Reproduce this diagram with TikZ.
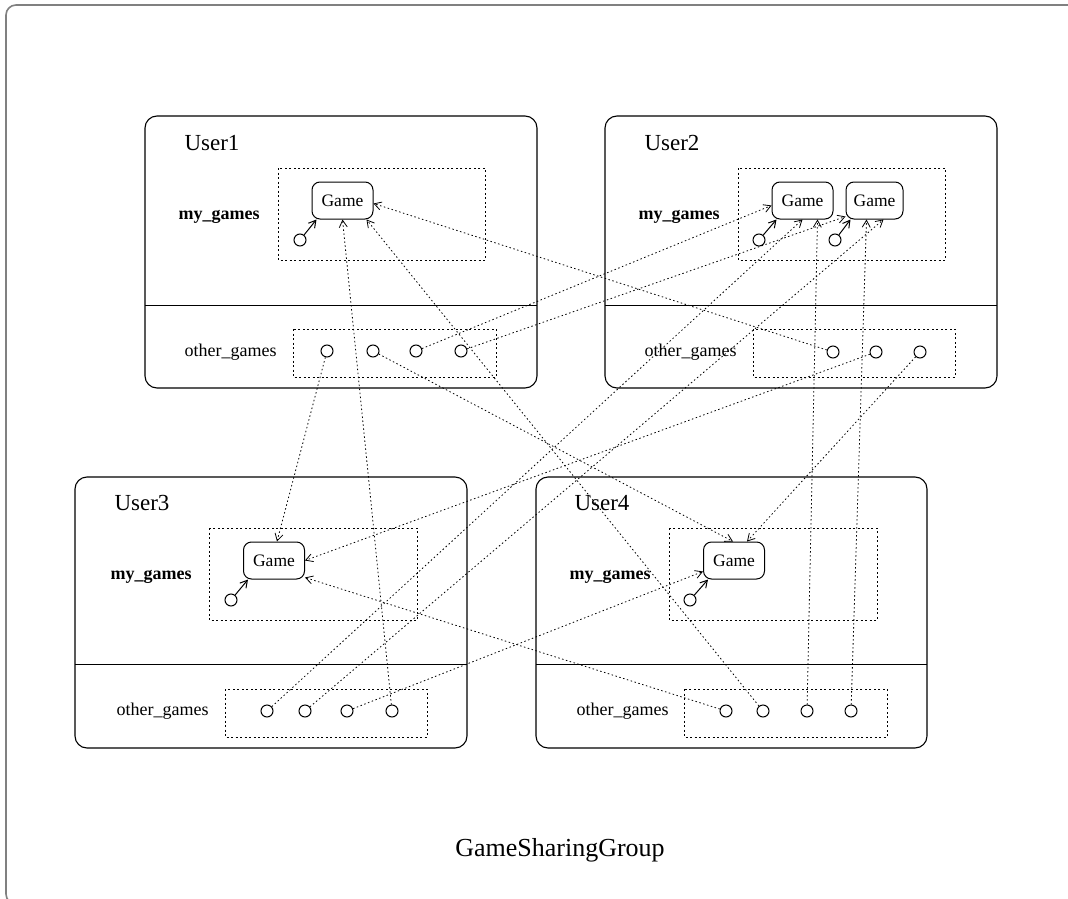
\documentclass[tikz,border=0pt]{standalone}
\usepackage{fontspec}
\setmainfont{Liberation Serif}
\usetikzlibrary{arrows.meta}
\begin{document}
\begin{tikzpicture}[x=1pt,y=-1pt,
  userbox/.style={draw, line width=1.1pt, rounded corners=12pt},
  divider/.style={line width=0.8pt},
  groupbox/.style={draw, line width=0.9pt, dash pattern=on 2pt off 2.5pt},
  game/.style={draw, line width=1pt, rounded corners=8pt, minimum width=61pt,
    minimum height=37pt, inner sep=0pt, font=\fontsize{17.5}{20}\selectfont},
  port/.style={draw, circle, line width=1pt, minimum size=12pt, inner sep=0pt},
  owner/.style={line width=1pt, -{Straight Barb[length=7pt,width=8pt]}},
  link/.style={line width=0.8pt, dash pattern=on 1.5pt off 2.5pt,
    -{Straight Barb[length=7pt,width=8pt]}},
  username/.style={anchor=west, font=\fontsize{23}{26}\selectfont},
  setname/.style={anchor=west, font=\fontsize{18}{21}\selectfont\bfseries},
  refname/.style={anchor=west, font=\fontsize{18}{21}\selectfont}]
\useasboundingbox (0,0) rectangle (1068,899);

% enclosing group frame, partly outside the page
\begin{scope}
  \clip (0,0) rectangle (1068,899);
  \draw[gray, line width=1.6pt, rounded corners=10pt] (6,5) rectangle (1090,904);
\end{scope}
\node[font=\fontsize{26}{30}\selectfont] (title) at (560,850) {GameSharingGroup};

% ---------------- User1 ----------------
\draw[userbox] (145,116) rectangle (537,388);
\draw[divider] (145,305) -- (537,305);
\node[username] (u1name) at (181,143) {User1};
\node[setname] (u1my) at (175,217) {my\_games};
\node[refname] (u1other) at (181,352) {other\_games};
\draw[groupbox] (278,168) rectangle (485,260);
\draw[groupbox] (293,329) rectangle (496,377);
\node[game] (g1) at (342.5,200.5) {Game};
\node[port] (o1) at (300,240) {};
\node[port] (u1c1) at (327,351) {};
\node[port] (u1c2) at (373,351) {};
\node[port] (u1c3) at (416,351) {};
\node[port] (u1c4) at (461,351) {};

% ---------------- User2 ----------------
\draw[userbox] (605,116) rectangle (997,388);
\draw[divider] (605,305) -- (997,305);
\node[username] (u2name) at (641,143) {User2};
\node[setname] (u2my) at (635,217) {my\_games};
\node[refname] (u2other) at (641,352) {other\_games};
\draw[groupbox] (738,168) rectangle (945,260);
\draw[groupbox] (753,329) rectangle (955,377);
\node[game] (g2a) at (802.5,200.5) {Game};
\node[game, minimum width=57pt] (g2b) at (874.5,200.5) {Game};
\node[port] (o2a) at (759,240) {};
\node[port] (o2b) at (835,240) {};
\node[port] (u2c1) at (833,352) {};
\node[port] (u2c2) at (876,352) {};
\node[port] (u2c3) at (920,352) {};

% ---------------- User3 ----------------
\draw[userbox] (75,477) rectangle (467,748);
\draw[divider] (75,664) -- (467,664);
\node[username] (u3name) at (111,503) {User3};
\node[setname] (u3my) at (107,577) {my\_games};
\node[refname] (u3other) at (113,711) {other\_games};
\draw[groupbox] (209,528) rectangle (417,620);
\draw[groupbox] (225,689) rectangle (427,737);
\node[game] (g3) at (274,560.5) {Game};
\node[port] (o3) at (231,600) {};
\node[port] (u3c1) at (267,711) {};
\node[port] (u3c2) at (305,711) {};
\node[port] (u3c3) at (347,711) {};
\node[port] (u3c4) at (392,711) {};

% ---------------- User4 ----------------
\draw[userbox] (536,477) rectangle (927,748);
\draw[divider] (536,664) -- (927,664);
\node[username] (u4name) at (571,503) {User4};
\node[setname] (u4my) at (566,577) {my\_games};
\node[refname] (u4other) at (573,711) {other\_games};
\draw[groupbox] (669,528) rectangle (877,620);
\draw[groupbox] (684,689) rectangle (887,737);
\node[game] (g4) at (734,560.5) {Game};
\node[port] (o4) at (690,600) {};
\node[port] (u4c1) at (726,711) {};
\node[port] (u4c2) at (763,711) {};
\node[port] (u4c3) at (807,711) {};
\node[port] (u4c4) at (851,711) {};

% ownership of each game
\draw[owner] (o1) -- ([xshift=5pt]g1.south west);
\draw[owner] (o2a) -- ([xshift=5pt]g2a.south west);
\draw[owner] (o2b) -- ([xshift=5pt]g2b.south west);
\draw[owner] (o3) -- ([xshift=5pt]g3.south west);
\draw[owner] (o4) -- ([xshift=5pt]g4.south west);

% references to games shared by other users
\draw[link] (u1c1) -- ([xshift=3pt]g3.north);
\draw[link] (u1c2) -- ([xshift=-1pt]g4.north);
\draw[link] (u1c3) -- ([yshift=-5pt]g2a.west);
\draw[link] (u1c4) -- ([yshift=3pt]g2b.south west);
\draw[link] (u2c1) -- ([yshift=-3pt]g1.east);
\draw[link] (u2c2) -- (g3.east);
\draw[link] (u2c3) -- ([xshift=13pt]g4.north);
\draw[link] (u3c1) -- (g2a.south);
\draw[link] (u3c2) -- ([xshift=9pt]g2b.south);
\draw[link] (u3c3) -- ([yshift=-11pt]g4.west);
\draw[link] (u3c4) -- (g1.south);
\draw[link] (u4c1) -- ([yshift=2pt]g3.south east);
\draw[link] (u4c2) -- ([xshift=24pt]g1.south);
\draw[link] (u4c3) -- ([xshift=15pt]g2a.south);
\draw[link] (u4c4) -- ([xshift=-8pt]g2b.south);
\end{tikzpicture}
\end{document}
